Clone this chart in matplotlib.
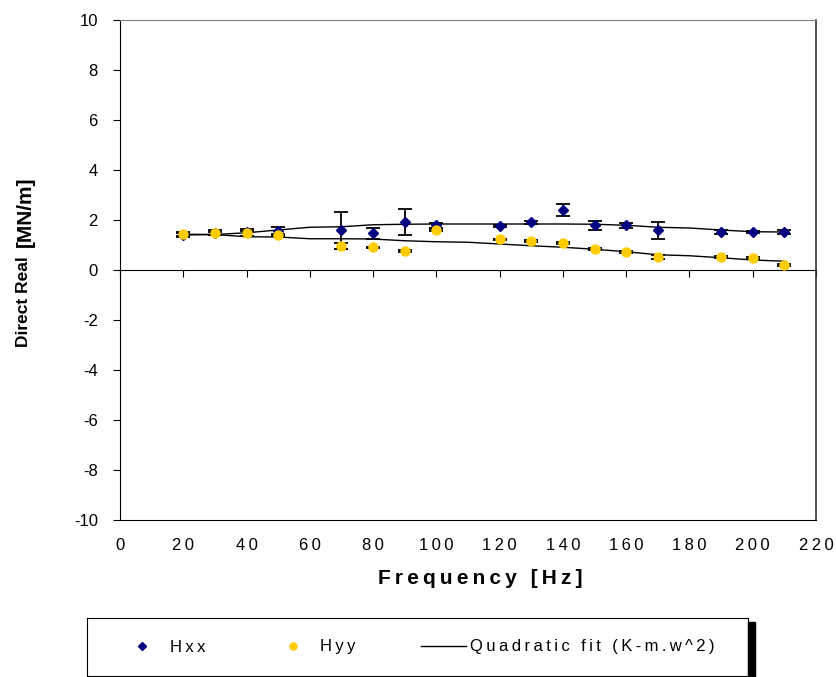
import matplotlib.pyplot as plt
from matplotlib.patches import Rectangle
from matplotlib.lines import Line2D

# measured points
freq = [20, 30, 40, 50, 70, 80, 90, 100, 120, 130, 140, 150, 160, 170, 190, 200, 210]
hxx = [1.40, 1.49, 1.51, 1.57, 1.59, 1.47, 1.91, 1.80, 1.77, 1.91, 2.40, 1.79, 1.79, 1.59, 1.52, 1.52, 1.52]
hxx_err = [0.08, 0.10, 0.15, 0.15, 0.74, 0.22, 0.52, 0.10, 0.05, 0.07, 0.24, 0.17, 0.10, 0.34, 0.07, 0.05, 0.07]
hyy = [1.46, 1.47, 1.47, 1.40, 0.97, 0.91, 0.77, 1.60, 1.23, 1.16, 1.09, 0.84, 0.72, 0.53, 0.53, 0.48, 0.21]
hyy_err = [0.08, 0.05, 0.10, 0.05, 0.13, 0.03, 0.03, 0.05, 0.02, 0.03, 0.03, 0.03, 0.03, 0.08, 0.03, 0.03, 0.03]

# quadratic fit curves
fit_freq = [20, 30, 40, 50, 60, 70, 80, 90, 100, 110, 120, 130, 140, 150, 160, 170, 180, 190, 200, 210]
hxx_fit = [1.40, 1.42, 1.49, 1.60, 1.71, 1.73, 1.81, 1.83, 1.84, 1.84, 1.84, 1.84, 1.84, 1.83, 1.79, 1.71, 1.68, 1.60, 1.53, 1.52]
hyy_fit = [1.43, 1.42, 1.33, 1.32, 1.25, 1.25, 1.24, 1.17, 1.13, 1.11, 1.04, 0.97, 0.91, 0.83, 0.73, 0.61, 0.57, 0.49, 0.40, 0.35]

x_ticks = [0, 20, 40, 60, 80, 100, 120, 140, 160, 180, 200, 220]
y_ticks = [-10, -8, -6, -4, -2, 0, 2, 4, 6, 8, 10]

plt.rcParams['font.family'] = ['Liberation Sans', 'DejaVu Sans']
TS = '\u2009'


def spaced(s):
    return TS.join(s)


W, H = 836, 677
fig = plt.figure(figsize=(W / 100, H / 100), dpi=100)
ax = fig.add_axes([120 / W, 1 - 520 / H, (816 - 120) / W, 500 / H])
ax.set_xlim(0, 220)
ax.set_ylim(-10, 10)

# fit lines
ax.plot(fit_freq, hxx_fit, color='black', lw=1.0, zorder=2)
ax.plot(fit_freq, hyy_fit, color='black', lw=1.0, zorder=2)

# data with error bars
ax.errorbar(freq, hxx, yerr=hxx_err, fmt='D', color='#000080', ms=5,
            ecolor='black', elinewidth=1.3, capsize=5, capthick=1.3, zorder=3)
ax.errorbar(freq, hyy, yerr=hyy_err, fmt='o', color='#FFCC00', ms=6.5,
            ecolor='black', elinewidth=1.3, capsize=5, capthick=1.3, zorder=4)

# ticks / spines
ax.set_yticks(y_ticks)
ax.set_yticklabels([str(v) for v in y_ticks])
ax.set_xticks(x_ticks)
ax.set_xticklabels([spaced(str(v)) for v in x_ticks])
ax.tick_params(axis='x', length=0, pad=13, labelsize=12)
ax.tick_params(axis='y', direction='out', length=5, pad=11, labelsize=12)
ax.spines['left'].set_color('black')
ax.spines['bottom'].set_color('black')
ax.spines['top'].set_color('#808080')
ax.spines['right'].set_color('#333333')
ax.spines['right'].set_linewidth(1.2)

# zero line with ticks
sec = ax.secondary_xaxis(0.5)
sec.set_alignment('bottom')
sec.set_xticks(x_ticks)
sec.tick_params(axis='x', direction='out', length=5, labelbottom=False, labeltop=False)
sec.spines['bottom'].set_color('black')

# axis titles
fig.text(480 / W, 1 - 578 / H, spaced('Frequency [Hz]'), fontsize=15,
         fontweight='bold', ha='center', va='center')
fig.text(24 / W, 1 - 302 / H, 'Direct Real', fontsize=12.5, fontweight='bold',
         rotation=90, ha='center', va='center')
fig.text(25 / W, 1 - 212 / H, '[MN/m]', fontsize=15, fontweight='bold',
         rotation=90, ha='center', va='center')

# legend box
lax = fig.add_axes([87 / W, 1 / H, 661 / W, 58 / H])
lax.set_xticks([])
lax.set_yticks([])
for s in lax.spines.values():
    s.set_color('black')
fig.add_artist(Rectangle((748 / W, 0), 7 / W, 55 / H, transform=fig.transFigure,
                         color='black', zorder=5))

handles = [
    Line2D([], [], marker='D', color='#000080', ls='none', ms=4),
    Line2D([], [], marker='o', color='#FFCC00', ls='none', ms=5),
    Line2D([], [], color='black', lw=1.0),
]
labels = [spaced('Hxx'), spaced('Hyy'), spaced('Quadratic fit (K-m.w^2)')]
lax.legend(handles, labels, ncol=3, loc='center left',
           bbox_to_anchor=(119.5 / W, 1 - 647 / H), bbox_transform=fig.transFigure,
           frameon=False, borderpad=0, borderaxespad=0, handlelength=2.7,
           handletextpad=0.3, columnspacing=3.9, fontsize=12)

plt.savefig('out.png', dpi=100)
